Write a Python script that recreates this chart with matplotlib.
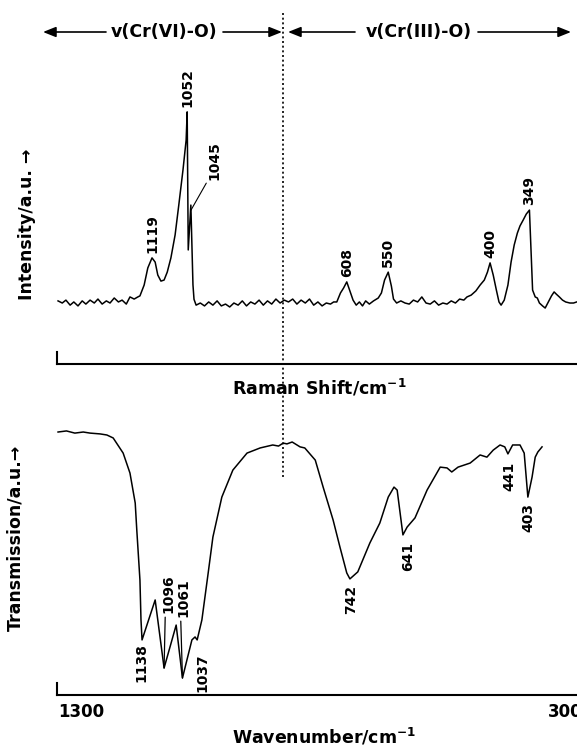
import matplotlib
matplotlib.use("Agg")
import matplotlib.pyplot as plt
from matplotlib.transforms import blended_transform_factory

plt.rcParams["font.family"] = ["DejaVu Sans"]
plt.rcParams["font.weight"] = "bold"
plt.rcParams["mathtext.default"] = "bf"

# Raman spectrum (position on the shared wavenumber scale, intensity a.u.)
raman_shift = [1298, 1290, 1283, 1275, 1268, 1260, 1252, 1245, 1237, 1229, 1222, 1214, 1206, 1199,
               1191, 1183, 1176, 1168, 1161, 1153, 1146, 1142,
               1134, 1127, 1119, 1113, 1108, 1102, 1096, 1090, 1083, 1075, 1068, 1060, 1054, 1052,
               1050, 1045, 1041, 1039,
               1035, 1027, 1019, 1011, 1003, 995, 987, 979, 971, 963, 955, 947, 939, 931, 923, 915,
               907, 899, 891, 883, 875, 867, 859, 851, 843, 835, 827, 819, 811, 803, 795, 787, 779, 773,
               767, 760, 754, 748, 742, 736, 730, 724, 718, 712, 705, 697, 688, 682, 676, 669, 663, 659, 653,
               645, 637, 629, 621, 613, 605, 597, 589, 581, 573, 565, 557, 549, 541, 533, 525,
               519, 511, 502, 494, 486, 480, 475, 469, 463, 458, 454, 448, 441, 435, 429, 423, 418, 412,
               406, 400, 397, 394, 389, 385, 381, 375, 370, 364, 358, 353, 349, 343, 337, 331, 323, 316, 310]
raman_int = [23.9, 23.1, 24.2, 22.3, 23.5, 22.0, 23.9, 22.7, 24.2, 23.1, 24.6, 22.7, 23.9, 23.1,
             25.0, 23.5, 24.2, 22.7, 25.4, 24.6, 25.4, 25.8,
             29.9, 36.4, 40.2, 38.6, 33.7, 31.4, 31.8, 34.8, 40.2, 48.9, 60.2, 73.5, 84.8, 95.5,
             43.2, 60.2, 30.0, 24.5,
             22.3, 23.1, 22.0, 23.5, 22.3, 23.9, 22.0, 22.7, 21.6, 23.1, 22.3, 23.9, 22.0, 23.5, 22.7, 24.2,
             22.3, 23.9, 22.7, 24.6, 23.1, 24.2, 23.5, 24.6, 22.7, 24.2, 23.1, 24.6, 22.3, 23.5, 22.0, 23.1, 22.7, 23.5,
             23.5, 26.9, 28.8, 31.1, 27.7, 24.2, 22.3, 23.5, 22.0, 23.9, 22.7, 23.9, 25.0, 26.9, 31.8, 34.8, 29.5, 24.6, 23.1,
             23.9, 23.1, 22.7, 24.2, 23.5, 25.4, 23.1, 22.7, 23.9, 22.3, 23.1, 22.7, 23.9, 23.1, 24.6, 24.2,
             25.4, 26.1, 27.7, 29.9, 31.8, 34.8, 38.3, 33.7, 28.0, 23.5, 22.3, 24.2, 29.9, 38.6, 45.1, 49.6, 52.3, 54.5,
             56.8, 58.3, 43.2, 28.0, 25.4, 25.0, 23.1, 22.0, 21.2, 23.5, 25.8, 27.3, 26.5, 25.4, 24.2, 23.5, 23.1, 23.1, 23.5]
raman_peak_labels = ["1119", "1052", "608", "550", "400", "349"]
raman_peak_pos = [1119, 1052, 748, 669, 475, 400]

# IR spectrum (wavenumber cm-1, transmission a.u.)
ir_wn = [1298, 1282, 1266, 1250, 1237, 1218, 1205, 1193, 1174, 1161, 1151, 1148, 1142, 1140, 1138,
         1113, 1096, 1073, 1061, 1043, 1037, 1033, 1024, 1012, 1003, 986, 965, 938, 913, 889, 878,
         869, 862, 852, 837, 828, 808, 793, 774, 761, 748, 742, 727, 704, 685, 669, 658, 652, 641,
         633, 618, 595, 570, 557, 548, 536, 513, 494, 481, 469, 456, 447, 441, 432, 418, 410, 403,
         395, 389, 384, 376]
ir_T = [97.4, 97.8, 97.0, 97.4, 97.0, 96.7, 96.3, 95.2, 89.6, 82.2, 71.1, 61.1, 42.6, 27.8, 20.4,
        35.2, 10.0, 25.9, 6.3, 20.4, 21.5, 20.4, 27.8, 45.2, 58.5, 73.3, 83.3, 89.6, 91.5, 92.6, 92.2,
        93.3, 93.0, 93.7, 91.9, 91.5, 87.0, 77.0, 64.8, 54.8, 45.2, 43.0, 45.6, 56.3, 63.7, 73.3, 77.0, 75.9, 59.3,
        62.2, 65.6, 75.9, 84.4, 84.1, 82.6, 84.4, 85.9, 88.9, 88.1, 90.7, 92.6, 91.9, 89.3, 92.6, 92.6, 89.6, 73.3,
        80.7, 88.1, 90.0, 91.9]
ir_peak_labels = ["1138", "1096", "1061", "1037", "742", "641", "441", "403"]
ir_peak_pos = [1138, 1096, 1061, 1037, 742, 641, 441, 403]
# label offsets in pixels (dx, dy)
ir_offsets = [(-1, -3), (4, 55), (1, 61), (7, -16), (1, -6), (5, -7), (1, -8), (1, -6)]

XLIM = (1300, 309.4)
BOUNDARY = 869.5

fig = plt.figure(figsize=(5.77, 7.5), dpi=100)
ax_r = fig.add_axes([57 / 577, 386 / 750, 520 / 577, 264 / 750])
ax_i = fig.add_axes([57 / 577, 55 / 750, 520 / 577, 270 / 750])

for ax in (ax_r, ax_i):
    ax.set_xlim(*XLIM)
    ax.set_ylim(0, 100)
    ax.set_xticks([]); ax.set_yticks([])
    ax.spines[["top", "right"]].set_visible(False)
    ax.spines["bottom"].set_linewidth(1.5)
    ax.spines["left"].set_linewidth(1.5)
    ax.spines["left"].set_bounds(0, 4.5)
    ax.patch.set_alpha(0)

ax_r.plot(raman_shift, raman_int, color="black", lw=1.1, clip_on=False)
ax_i.plot(ir_wn, ir_T, color="black", lw=1.1)

idx = {x: i for i, x in enumerate(raman_shift)}
for lab, pos in zip(raman_peak_labels, raman_peak_pos):
    ax_r.annotate(lab, (pos, raman_int[idx[pos]]), xytext=(0, 5), textcoords="offset pixels",
                  rotation=90, ha="center", va="bottom", fontsize=10, fontweight="bold")
ax_r.annotate("1045", (1045, raman_int[idx[1045]] - 2), xytext=(24, 30), textcoords="offset pixels",
              rotation=90, ha="center", va="bottom", fontsize=10, fontweight="bold",
              arrowprops=dict(arrowstyle="-", lw=0.8, color="black", shrinkA=0, shrinkB=0,
                              relpos=(0.0, 0.0)))

iidx = {x: i for i, x in enumerate(ir_wn)}
for lab, pos, (dx, dy) in zip(ir_peak_labels, ir_peak_pos, ir_offsets):
    va = "bottom" if dy > 20 else "top"
    kw = {}
    if dy > 20:
        kw["arrowprops"] = dict(arrowstyle="-", lw=0.9, color="black", shrinkA=1, shrinkB=0,
                                relpos=(0.3, 0.0))
    ax_i.annotate(lab, (pos, ir_T[iidx[pos]]), xytext=(dx, dy), textcoords="offset pixels",
                  rotation=90, ha="center", va=va, fontsize=10, fontweight="bold", **kw)

# dotted boundary between the two regions
tr = blended_transform_factory(ax_i.transData, fig.transFigure)
fig.add_artist(plt.Line2D([BOUNDARY, BOUNDARY], [1 - 477 / 750, 1 - 12 / 750], transform=tr,
                          color="black", lw=1.2, ls=(0, (1.2, 1.6))))

# region arrows at the top
ay = 718
arr = dict(arrowstyle="-|>,head_length=0.55,head_width=0.22", lw=1.2, color="black",
           mutation_scale=14, shrinkA=0, shrinkB=0)
for start, end in [(106, 43), (223, 282), (355, 288), (478, 571)]:
    ax_r.annotate("", xy=(end, ay), xytext=(start, ay), xycoords="figure pixels",
                  textcoords="figure pixels", arrowprops=arr, annotation_clip=False)
fig.text(164 / 577, ay / 750, "v(Cr(VI)-O)", ha="center", va="center", fontsize=12.5, fontweight="bold")
fig.text(419 / 577, ay / 750, "v(Cr(III)-O)", ha="center", va="center", fontsize=12.5, fontweight="bold")

# axis labels
fig.text(27 / 577, 1 - 224 / 750, "Intensity/a.u. \u2192", rotation=90, ha="center", va="center",
         fontsize=12.5, fontweight="bold")
fig.text(15 / 577, 1 - 538 / 750, "Transmission/a.u.\u2192", rotation=90, ha="center", va="center",
         fontsize=12.5, fontweight="bold")
fig.text(319 / 577, 1 - 388 / 750, r"Raman Shift/cm$^{-1}$", ha="center", va="center",
         fontsize=12.5, fontweight="bold")
fig.text(324 / 577, 1 - 737 / 750, r"Wavenumber/cm$^{-1}$", ha="center", va="center",
         fontsize=12.5, fontweight="bold")

ax_i.text(0.002, -0.063, "1300", transform=ax_i.transAxes, ha="left", va="center",
          fontsize=12, fontweight="bold")
ax_i.text(0.944, -0.063, "300", transform=ax_i.transAxes, ha="left", va="center",
          fontsize=12, fontweight="bold", clip_on=False)

fig.savefig("out.png", dpi=100)
